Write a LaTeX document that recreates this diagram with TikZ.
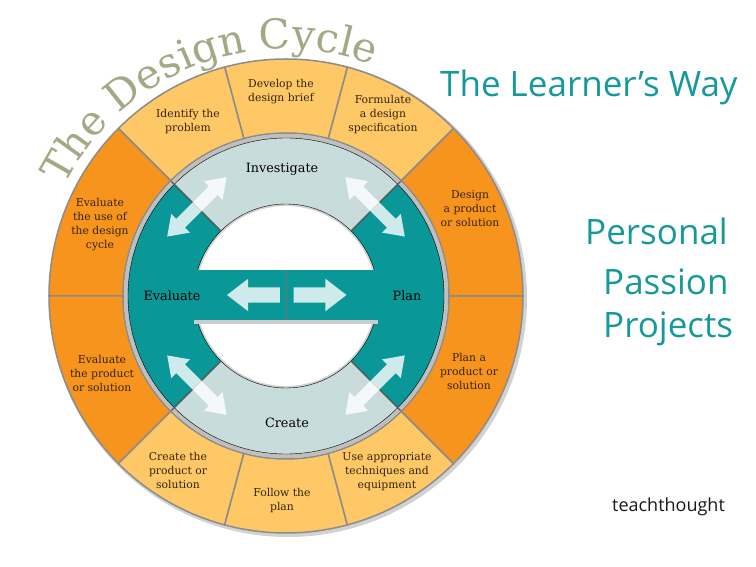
\documentclass[tikz,border=0pt]{standalone}
\usepackage{fontspec}
\setmainfont{DejaVu Serif}
\newfontfamily\sansfam{Open Sans}
\newfontfamily\slabfam{DejaVu Serif}
\usetikzlibrary{shapes.arrows,decorations.text,calc}
\definecolor{lightor}{HTML}{FDC865}
\definecolor{darkor}{HTML}{F7941D}
\definecolor{tealc}{HTML}{0A9797}
\definecolor{ringgray}{HTML}{C9DCDC}
\definecolor{titlec}{HTML}{A5A884}
\definecolor{labelc}{HTML}{33230F}
\definecolor{headc}{HTML}{17999A}
\definecolor{sepc}{HTML}{8C8C8C}
\newcommand\annsector[5]{%
  \filldraw[#1] ([shift={(#2:#4)}]C) arc[start angle=#2,end angle=#3,radius=#4]
    -- ([shift={(#3:#5)}]C) arc[start angle=#3,end angle=#2,radius=#5] -- cycle;}
\begin{document}
\begin{tikzpicture}[x=1pt,y=1pt,
  outerlight/.style={fill=lightor,draw=sepc,line width=1.5pt},
  outerdark/.style={fill=darkor,draw=sepc,line width=1.5pt},
  innerteal/.style={fill=tealc},
  innergray/.style={fill=ringgray},
  boundary/.style={draw=black!65,line width=1.2pt},
  seglabel/.style={font=\slabfam\fontsize{10.8}{14}\selectfont,text=labelc,align=center,inner sep=0pt},
  ringlabel/.style={font=\slabfam\fontsize{12.8}{14}\selectfont,text=black,inner sep=0pt},
  dblarrow/.style={double arrow,fill=white,fill opacity=0.8,draw=none,minimum height=84pt,
     minimum width=26pt,double arrow head extend=7pt,double arrow tip angle=70,
     inner xsep=0pt,inner ysep=6pt},
  sglarrow/.style={single arrow,fill=white,fill opacity=0.8,draw=none,minimum height=53pt,
     minimum width=32pt,single arrow head extend=8.5pt,single arrow tip angle=75,
     inner xsep=0pt,inner ysep=7.5pt},
  headtext/.style={font=\sansfam\fontsize{35}{35}\selectfont,text=headc,inner sep=0pt,anchor=base west}]
\fill[white] (0,0) rectangle (756,567);
\useasboundingbox (0,0) rectangle (756,567);
\coordinate (C) at (286,271);
% shadow of outer ring
\fill[gray!35] ([shift={(2,-2)}]C) circle (239pt);
% outer ring segments
\annsector{outerlight}{45}{75}{163pt}{237pt}
\annsector{outerlight}{75}{105}{163pt}{237pt}
\annsector{outerlight}{105}{135}{163pt}{237pt}
\annsector{outerdark}{135}{180}{163pt}{237pt}
\annsector{outerdark}{180}{225}{163pt}{237pt}
\annsector{outerlight}{225}{255}{163pt}{237pt}
\annsector{outerlight}{255}{285}{163pt}{237pt}
\annsector{outerlight}{285}{315}{163pt}{237pt}
\annsector{outerdark}{315}{360}{163pt}{237pt}
\annsector{outerdark}{0}{45}{163pt}{237pt}
% gap ring and hole
\fill[gray!50,even odd rule] (C) circle (162pt) (C) circle (92pt);
\fill[white] (C) circle (92pt);
\draw[gray!35,line width=2pt] (C) circle (91pt);
% inner ring
\annsector{innerteal}{135}{225}{92pt}{158pt}
\annsector{innerteal}{-45}{45}{92pt}{158pt}
\annsector{innergray}{45}{135}{92pt}{158pt}
\annsector{innergray}{225}{315}{92pt}{158pt}
\foreach \a in {45,135,225,315}{
  \draw[boundary] ([shift={(\a:92pt)}]C) -- ([shift={(\a:162pt)}]C);}
% bar
\fill[gray!40] (194,243) rectangle (378,249);
\fill[tealc] (192,247) rectangle (380,297);
\draw[black!55,line width=0.8pt] (286,247) -- (286,297);
% arrows
\node[dblarrow,rotate=135] (a1) at ([shift={(45:126pt)}]C) {};
\node[dblarrow,rotate=45] (a2) at ([shift={(135:126pt)}]C) {};
\node[dblarrow,rotate=135] (a3) at ([shift={(225:126pt)}]C) {};
\node[dblarrow,rotate=45] (a4) at ([shift={(315:126pt)}]C) {};
\node[sglarrow,shape border rotate=180] (al) at (258.5,272) {};
\node[sglarrow] (ar) at (315,272) {};
% ring labels
\node[ringlabel] (inv) at (282,398) {Investigate};
\node[ringlabel] (eva) at (172,271) {Evaluate};
\node[ringlabel] (pla) at (407,271) {Plan};
\node[ringlabel] (cre) at (287,144) {Create};
% segment labels
\node[seglabel] (s1) at (188,445) {Identify the\\problem};
\node[seglabel] (s2) at (281,475) {Develop the\\design brief};
\node[seglabel] (s3) at (383,452) {Formulate\\a design\\specification};
\node[seglabel] (s4) at (470,358) {Design\\a product\\or solution};
\node[seglabel] (s5) at (469,196) {Plan a\\product or\\solution};
\node[seglabel] (s6) at (387,95) {Use appropriate\\techniques and\\equipment};
\node[seglabel] (s7) at (282,66) {Follow the\\plan};
\node[seglabel] (s8) at (178,97) {Create the\\product or\\solution};
\node[seglabel] (s9) at (102,194) {Evaluate\\the product\\or solution};
\node[seglabel] (s10) at (100,342) {Evaluate\\the use of\\the design\\cycle};
% title along arc
\path[decorate,decoration={text along path,
   text={|\slabfam\fontsize{41}{41}\selectfont|The Design Cycle},
   text color=titlec,text align=center}]
   ([shift={(175:247pt)}]C) arc[start angle=175,end angle=48,radius=247pt];
% right texts
\node[headtext] (lw) at (440,470) {The Learner’s Way};
\node[headtext] (pp1) at (585,322) {Personal};
\node[headtext] (pp2) at (603,272) {Passion};
\node[headtext] (pp3) at (603,229) {Projects};
\node[anchor=base west,inner sep=0pt,font=\sansfam\fontsize{18}{18}\selectfont,text=black!90] (tt) at (612,55) {teachthought};
\end{tikzpicture}
\end{document}
